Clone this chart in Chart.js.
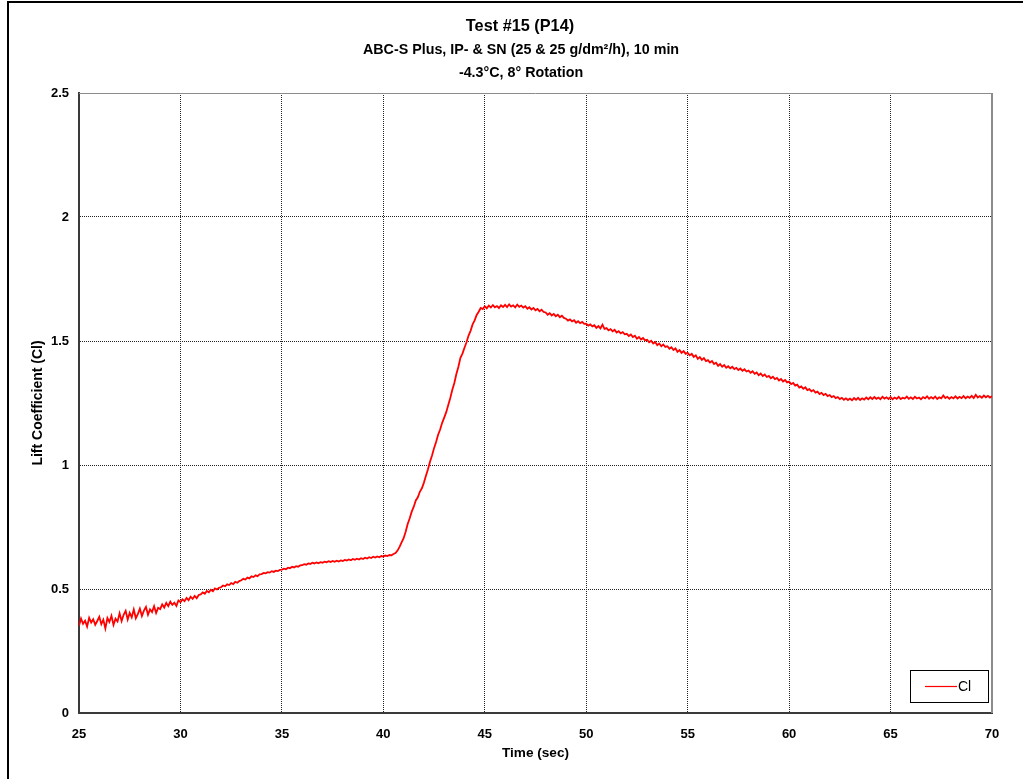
<!DOCTYPE html>
<html>
<head>
<meta charset="utf-8">
<title>Test #15 (P14)</title>
<script src="https://cdn.jsdelivr.net/npm/chart.js@4.4.1/dist/chart.umd.min.js"></script>
<style>
  html, body { margin: 0; padding: 0; background: #fff; }
  #wrap { width: 1023px; height: 779px; position: relative; }
</style>
</head>
<body>
<div id="wrap"><canvas id="chart" width="1023" height="779"></canvas></div>
<script>
// ---- chart text ----
const TITLE = 'Test #15 (P14)';
const SUBTITLE = ['ABC-S Plus, IP- & SN (25 & 25 g/dm²/h), 10 min', '-4.3°C, 8° Rotation'];
const X_LABEL = 'Time (sec)';
const Y_LABEL = 'Lift Coefficient (Cl)';
const SERIES_NAME = 'Cl';

// ---- axis ticks ----
const X_TICKS = [25, 30, 35, 40, 45, 50, 55, 60, 65, 70];
const Y_TICKS = [0, 0.5, 1, 1.5, 2, 2.5];

// ---- sampling of the lift record (seconds) ----
const SAMPLE_START = 25;
const SAMPLE_STEP = 0.1;

// ---- lift coefficient, one value per sample, 25.0 s .. 70.0 s ----
const CL = [
  0.352, 0.381, 0.360, 0.372, 0.349, 0.384, 0.365, 0.378, 0.356, 0.371,
  0.388, 0.358, 0.376, 0.341, 0.383, 0.367, 0.392, 0.355, 0.380, 0.369,
  0.402, 0.371, 0.396, 0.412, 0.377, 0.404, 0.386, 0.417, 0.382, 0.399,
  0.421, 0.391, 0.413, 0.428, 0.396, 0.418, 0.407, 0.431, 0.403, 0.424,
  0.419, 0.438, 0.425, 0.444, 0.431, 0.449, 0.436, 0.445, 0.432, 0.454,
  0.447, 0.458, 0.451, 0.464, 0.455, 0.469, 0.460, 0.472, 0.463, 0.476,
  0.478, 0.486, 0.481, 0.492, 0.487, 0.497, 0.491, 0.502, 0.498, 0.505,
  0.507, 0.514, 0.511, 0.519, 0.516, 0.524, 0.520, 0.529, 0.525, 0.532,
  0.535, 0.541, 0.538, 0.546, 0.543, 0.551, 0.548, 0.555, 0.552, 0.559,
  0.560, 0.565, 0.563, 0.568, 0.566, 0.572, 0.569, 0.574, 0.572, 0.577,
  0.578, 0.582, 0.580, 0.586, 0.584, 0.590, 0.587, 0.592, 0.590, 0.595,
  0.596, 0.600, 0.598, 0.603, 0.601, 0.606, 0.603, 0.607, 0.604, 0.608,
  0.606, 0.610, 0.608, 0.612, 0.609, 0.613, 0.610, 0.614, 0.611, 0.615,
  0.613, 0.617, 0.615, 0.619, 0.616, 0.621, 0.618, 0.622, 0.619, 0.624,
  0.621, 0.626, 0.623, 0.628, 0.625, 0.630, 0.627, 0.631, 0.628, 0.633,
  0.631, 0.635, 0.633, 0.637, 0.636, 0.641, 0.645, 0.655, 0.670, 0.688,
  0.705, 0.731, 0.762, 0.785, 0.812, 0.832, 0.857, 0.870, 0.892, 0.906,
  0.929, 0.957, 0.983, 1.013, 1.038, 1.068, 1.093, 1.122, 1.143, 1.170,
  1.191, 1.213, 1.242, 1.270, 1.303, 1.331, 1.367, 1.396, 1.432, 1.449,
  1.473, 1.495, 1.522, 1.541, 1.567, 1.583, 1.605, 1.618, 1.633, 1.629,
  1.640, 1.632, 1.643, 1.635, 1.645, 1.636, 1.641, 1.633, 1.644, 1.637,
  1.646, 1.637, 1.648, 1.639, 1.644, 1.636, 1.647, 1.638, 1.643, 1.635,
  1.640, 1.630, 1.636, 1.627, 1.633, 1.624, 1.629, 1.620, 1.626, 1.617,
  1.615, 1.606, 1.612, 1.603, 1.609, 1.600, 1.606, 1.596, 1.602, 1.593,
  1.590, 1.582, 1.587, 1.579, 1.584, 1.574, 1.580, 1.572, 1.577, 1.569,
  1.570, 1.562, 1.567, 1.559, 1.564, 1.553, 1.560, 1.551, 1.566, 1.549,
  1.552, 1.543, 1.548, 1.539, 1.545, 1.534, 1.540, 1.531, 1.536, 1.527,
  1.529, 1.520, 1.526, 1.516, 1.521, 1.509, 1.516, 1.506, 1.512, 1.503,
  1.505, 1.495, 1.501, 1.490, 1.496, 1.483, 1.490, 1.479, 1.486, 1.476,
  1.479, 1.469, 1.475, 1.464, 1.470, 1.456, 1.463, 1.452, 1.459, 1.448,
  1.452, 1.442, 1.448, 1.436, 1.442, 1.428, 1.435, 1.424, 1.431, 1.419,
  1.423, 1.413, 1.419, 1.407, 1.412, 1.400, 1.407, 1.396, 1.403, 1.392,
  1.398, 1.390, 1.396, 1.387, 1.392, 1.383, 1.389, 1.380, 1.386, 1.377,
  1.381, 1.372, 1.378, 1.368, 1.373, 1.362, 1.369, 1.359, 1.365, 1.355,
  1.359, 1.350, 1.356, 1.346, 1.351, 1.341, 1.347, 1.337, 1.343, 1.333,
  1.336, 1.326, 1.331, 1.320, 1.324, 1.312, 1.317, 1.307, 1.313, 1.302,
  1.306, 1.297, 1.302, 1.292, 1.296, 1.286, 1.291, 1.282, 1.287, 1.278,
  1.282, 1.274, 1.278, 1.270, 1.274, 1.266, 1.271, 1.263, 1.269, 1.262,
  1.268, 1.261, 1.270, 1.263, 1.271, 1.262, 1.269, 1.264, 1.272, 1.265,
  1.273, 1.266, 1.274, 1.267, 1.272, 1.265, 1.275, 1.268, 1.273, 1.266,
  1.274, 1.265, 1.272, 1.267, 1.275, 1.266, 1.271, 1.268, 1.276, 1.267,
  1.273, 1.266, 1.275, 1.268, 1.272, 1.265, 1.274, 1.269, 1.277, 1.267,
  1.274, 1.268, 1.276, 1.266, 1.273, 1.269, 1.280, 1.270, 1.275, 1.267,
  1.274, 1.269, 1.277, 1.268, 1.275, 1.270, 1.278, 1.269, 1.276, 1.271,
  1.279, 1.270, 1.283, 1.272, 1.278, 1.271, 1.280, 1.273, 1.279, 1.272,
  1.277
];

const FONT = 'Liberation Sans, Arial, Helvetica, sans-serif';

const points = CL.map((v, i) => ({ x: +(SAMPLE_START + i * SAMPLE_STEP).toFixed(1), y: v }));

// Page frame, three-line heading and the grey top/right edges of the plot box
const framePlugin = {
  id: 'frame',
  beforeDraw(chart) {
    const ctx = chart.ctx;
    ctx.save();
    ctx.fillStyle = '#fff';
    ctx.fillRect(0, 0, chart.width, chart.height);
    ctx.fillStyle = '#000';
    ctx.fillRect(7, 1, 2, chart.height - 1);
    ctx.fillRect(7, 1, chart.width - 7, 2);

    const cx = 521;
    ctx.textAlign = 'center';
    ctx.textBaseline = 'middle';
    ctx.font = 'bold 16.3px ' + FONT;
    ctx.fillText(TITLE, cx - 1, 27);
    ctx.font = 'bold 14.3px ' + FONT;
    SUBTITLE.forEach((line, i) => ctx.fillText(line, cx, 50 + i * 23));
    ctx.restore();
  },
  beforeDatasetsDraw(chart) {
    const { ctx, chartArea: a } = chart;
    ctx.save();
    ctx.strokeStyle = '#8c8c8c';
    ctx.lineWidth = 1;
    ctx.beginPath();
    ctx.moveTo(Math.round(a.left), Math.round(a.top) + 0.5);
    ctx.lineTo(Math.round(a.right), Math.round(a.top) + 0.5);
    ctx.stroke();
    ctx.lineWidth = 2;
    ctx.beginPath();
    ctx.moveTo(Math.round(a.right), Math.round(a.top));
    ctx.lineTo(Math.round(a.right), Math.round(a.bottom));
    ctx.stroke();
    ctx.restore();
  }
};

// Boxed legend in the lower right corner of the plot
const boxLegendPlugin = {
  id: 'boxLegend',
  afterDraw(chart) {
    const { ctx, chartArea: a } = chart;
    const ds = chart.data.datasets[0];
    const w = 78, h = 32;
    const x = Math.round(a.right) - 82, y = Math.round(a.bottom) - 43;
    ctx.save();
    ctx.fillStyle = '#fff';
    ctx.fillRect(x, y, w, h);
    ctx.strokeStyle = '#000';
    ctx.lineWidth = 1;
    ctx.strokeRect(x + 0.5, y + 0.5, w, h);
    ctx.strokeStyle = ds.borderColor;
    ctx.lineWidth = 1.2;
    ctx.beginPath();
    ctx.moveTo(x + 15, y + 16.5);
    ctx.lineTo(x + 47, y + 16.5);
    ctx.stroke();
    ctx.fillStyle = '#000';
    ctx.font = '14px ' + FONT;
    ctx.textBaseline = 'middle';
    ctx.textAlign = 'left';
    ctx.fillText(ds.label, x + 48, y + 17);
    ctx.restore();
  }
};

const hideEdges = (edges) => (c) => (c.tick && edges.includes(c.tick.value)) ? 'rgba(0,0,0,0)' : '#222';

new Chart(document.getElementById('chart'), {
  type: 'line',
  data: {
    datasets: [{
      label: SERIES_NAME,
      data: points,
      borderColor: '#ff0000',
      borderWidth: 1.8,
      pointRadius: 0,
      tension: 0,
      fill: false
    }]
  },
  options: {
    responsive: false,
    animation: false,
    devicePixelRatio: 1,
    parsing: false,
    layout: { padding: { left: 26, right: 31, top: 93, bottom: 16 } },
    plugins: {
      legend: { display: false },
      tooltip: { enabled: false },
      title: { display: false },
      subtitle: { display: false }
    },
    scales: {
      x: {
        type: 'linear',
        min: 25,
        max: 70,
        afterBuildTicks: (s) => { s.ticks = X_TICKS.map(v => ({ value: v })); },
        afterFit: (s) => { s.height = 50; },
        ticks: {
          color: '#000', padding: 14,
          font: { family: FONT, size: 13, weight: 'bold' },
          callback: (v) => String(v)
        },
        grid: { color: hideEdges([25, 70]), lineWidth: 1, drawTicks: false },
        border: { display: true, color: '#3a3a3a', width: 2, dash: [1, 1] },
        title: {
          display: true,
          text: X_LABEL,
          color: '#000',
          font: { family: FONT, size: 13.6, weight: 'bold' },
          padding: { top: 2, bottom: 2 }
        }
      },
      y: {
        type: 'linear',
        min: 0,
        max: 2.5,
        afterBuildTicks: (s) => { s.ticks = Y_TICKS.map(v => ({ value: v })); },
        afterFit: (s) => { s.width = 53; },
        ticks: {
          color: '#000', padding: 10,
          font: { family: FONT, size: 13, weight: 'bold' },
          callback: (v) => String(v)
        },
        grid: { color: hideEdges([0, 2.5]), lineWidth: 1, drawTicks: false },
        border: { display: true, color: '#3a3a3a', width: 2, dash: [1, 1] },
        title: {
          display: true,
          text: Y_LABEL,
          color: '#000',
          font: { family: FONT, size: 14, weight: 'bold' },
          padding: { top: 4, bottom: 4 }
        }
      }
    }
  },
  plugins: [framePlugin, boxLegendPlugin]
});
</script>
</body>
</html>
